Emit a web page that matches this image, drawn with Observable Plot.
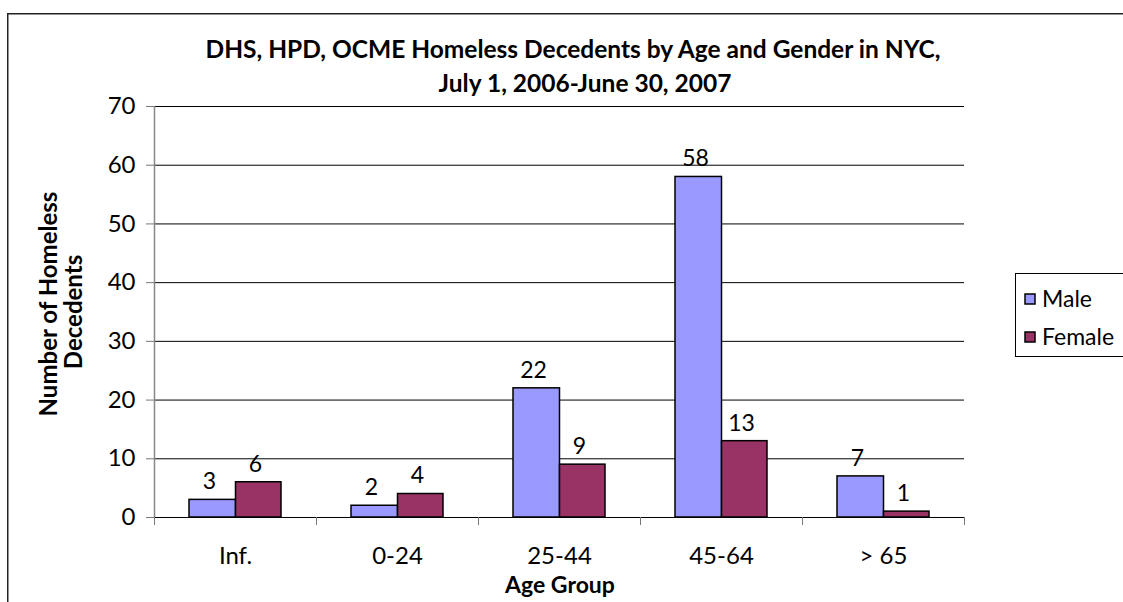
<!DOCTYPE html>
<html>
<head>
<meta charset="utf-8">
<script src="https://cdn.jsdelivr.net/npm/d3@7"></script>
<script src="https://cdn.jsdelivr.net/npm/@observablehq/plot@0.6"></script>
<style>
  body { margin: 0; background: #fff; }
  #chart { width: 1123px; height: 602px; overflow: hidden; }
</style>
</head>
<body>
<div id="chart"></div>
<script>
// ---- data ----
const categories = ["Inf.", "0-24", "25-44", "45-64", "> 65"];
const male = [3, 2, 22, 58, 7];
const female = [6, 4, 9, 13, 1];
const seriesNames = ["Male", "Female"];
const seriesColors = ["#9999FF", "#993366"];
const yTicks = [0, 10, 20, 30, 40, 50, 60, 70];
const titleLines = ["DHS, HPD, OCME Homeless Decedents by Age and Gender in NYC,", "July 1, 2006-June 30, 2007"];
const yTitleLines = ["Number of Homeless", "Decedents"];
const xTitle = "Age Group";

const rows = categories.flatMap((c, i) => [
  {cat: c, i, sex: "Male", v: male[i]},
  {cat: c, i, sex: "Female", v: female[i]}
]);
const maleRows = rows.filter(d => d.sex === "Male");
const femaleRows = rows.filter(d => d.sex === "Female");

const FONT = "Lato, 'Open Sans', sans-serif";

const chart = Plot.plot({
  width: 1123,
  height: 602,
  marginLeft: 154,
  marginRight: 159,
  marginTop: 106,
  marginBottom: 85,
  style: {fontFamily: FONT, fontSize: "23px", color: "#000", background: "#fff", overflow: "visible"},
  x: {domain: [0, categories.length]},
  y: {domain: [0, 70]},
  marks: [
    Plot.ruleY(yTicks, {stroke: "#000", strokeWidth: 1}),
    Plot.rectY(maleRows, {x1: "i", x2: d => d.i + 1, y1: () => 0, y2: "v", fill: seriesColors[0], stroke: "#000", strokeWidth: 1.5, insetLeft: 35, insetRight: 80.5}),
    Plot.rectY(femaleRows, {x1: "i", x2: d => d.i + 1, y1: () => 0, y2: "v", fill: seriesColors[1], stroke: "#000", strokeWidth: 1.5, insetLeft: 81.5, insetRight: 35}),
    Plot.ruleX([0], {stroke: "#888", strokeWidth: 1.5}),
    Plot.axisY({ticks: yTicks, tickSize: 8, tickPadding: 11, stroke: "#777", label: null, fontSize: 24}),
    Plot.axisX({ticks: d3.range(categories.length + 1), tickSize: 8, tickFormat: () => "", label: null, stroke: "#777"}),
    Plot.axisX({ticks: categories.map((c, i) => i + 0.5), tickSize: 0, tickPadding: 29, tickFormat: t => categories[Math.floor(t)], label: null, fontSize: 24}),
    Plot.text(maleRows, {x: d => d.i + 0.5, y: "v", text: d => String(d.v), dx: -26, dy: -18, fontSize: 23}),
    Plot.text(femaleRows, {x: d => d.i + 0.5, y: "v", text: d => String(d.v), dx: 20, dy: -18, fontSize: 23})
  ]
});
document.getElementById("chart").appendChild(chart);

// ---- decorations: frame, titles, legend ----
const svg = d3.select(chart);
svg.append("path")
  .attr("d", "M7.75,602V13.75H1123")
  .attr("fill", "none").attr("stroke", "#222").attr("stroke-width", 1.5);

const tg = svg.append("g").attr("font-family", FONT).attr("font-weight", "bold").attr("fill", "#000").attr("text-anchor", "middle");
tg.append("text").attr("x", 573).attr("y", 58).attr("font-size", 24.5).text(titleLines[0]);
tg.append("text").attr("x", 585).attr("y", 92).attr("font-size", 24.5).text(titleLines[1]);

tg.append("text").attr("transform", "translate(57,304) rotate(-90)").attr("font-size", 24).text(yTitleLines[0]);
tg.append("text").attr("transform", "translate(82,312) rotate(-90)").attr("font-size", 24).text(yTitleLines[1]);
tg.append("text").attr("x", 560).attr("y", 593).attr("font-size", 23).text(xTitle);

const lg = svg.append("g").attr("font-family", FONT).attr("font-size", 23).attr("text-anchor", "start");
lg.append("rect").attr("x", 1015.5).attr("y", 273.5).attr("width", 200).attr("height", 83)
  .attr("fill", "#fff").attr("stroke", "#000").attr("stroke-width", 1);
seriesNames.forEach((name, k) => {
  const cy = 299 + k * 38;
  lg.append("rect").attr("x", 1025).attr("y", cy - 5).attr("width", 10).attr("height", 10)
    .attr("fill", seriesColors[k]).attr("stroke", "#000").attr("stroke-width", 1.5);
  lg.append("text").attr("x", 1042).attr("y", cy + 8).text(name);
});
</script>
</body>
</html>
